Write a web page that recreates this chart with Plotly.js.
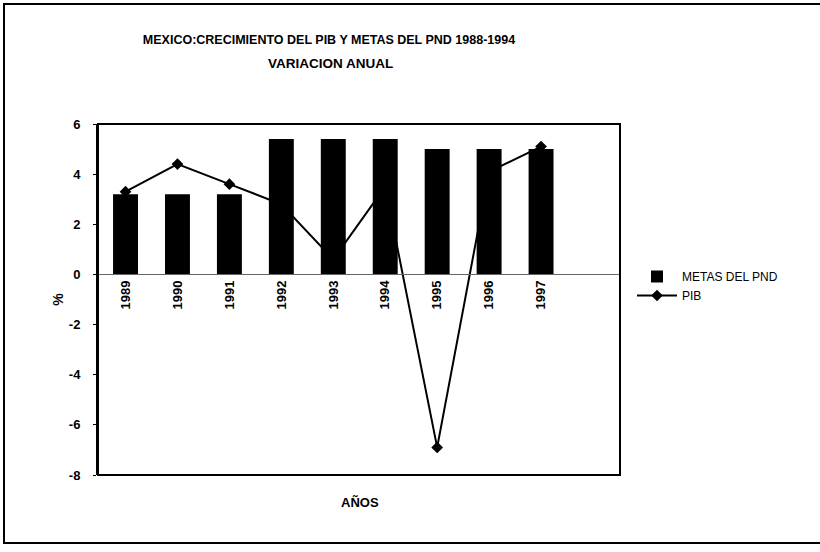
<!DOCTYPE html>
<html>
<head>
<meta charset="utf-8">
<script src="https://cdn.plot.ly/plotly-3.0.1.min.js"></script>
<style>
html,body{margin:0;padding:0;background:#fff;}
#chart{width:820px;height:552px;}
</style>
</head>
<body>
<div id="chart"></div>
<script>
// Data
const years = ['1989','1990','1991','1992','1993','1994','1995','1996','1997'];
const metasPND = [3.2, 3.2, 3.2, 5.4, 5.4, 5.4, 5.0, 5.0, 5.0];
const pib = [3.3, 4.4, 3.6, 2.8, 0.6, 3.5, -6.9, 4.1, 5.1];
const yTicks = [-8, -6, -4, -2, 0, 2, 4, 6];

const W = 820, H = 552;
const L = 98, R = 200, T = 124, B = 77;
const pw = W - L - R, ph = H - T - B;
const yMin = -8, yMax = 6;
const zeroPos = (0 - yMin) / (yMax - yMin);
const px = v => (v - L) / pw;
const py = v => (H - B - v) / ph;

const FONT = 'Liberation Sans, Arial, sans-serif';
const xr = [-0.53, 9.52];

const data = [
  {
    type: 'bar', name: 'METAS DEL PND', x: years, y: metasPND,
    xaxis: 'x2', yaxis: 'y2',
    marker: {color: '#000', line: {width: 0}}
  },
  {
    type: 'scatter', mode: 'lines+markers', name: 'PIB', x: years, y: pib,
    line: {color: '#000', width: 2},
    marker: {symbol: 'diamond', size: 9, color: '#000'}
  }
];

const layout = {
  width: W, height: H,
  margin: {l: L, r: R, t: T, b: B},
  paper_bgcolor: '#fff', plot_bgcolor: '#fff',
  showlegend: true,
  font: {family: FONT, color: '#000'},
  title: {
    text: '<b>MEXICO:CRECIMIENTO DEL PIB Y METAS DEL PND 1988-1994</b>',
    font: {family: FONT, size: 12.5, color: '#000'},
    x: 329 / W, xref: 'container', xanchor: 'center',
    y: 1 - 40 / H, yref: 'container', yanchor: 'middle'
  },
  bargap: 0.52,
  xaxis: {
    type: 'category', range: xr, anchor: 'free', position: zeroPos,
    showline: true, linecolor: '#666', linewidth: 1,
    showgrid: false, zeroline: false,
    ticks: '', tickangle: -90,
    tickfont: {family: FONT, size: 13, color: '#000', weight: 'bold'},
    fixedrange: true
  },
  xaxis2: {
    type: 'category', range: xr, overlaying: 'x', anchor: 'y2',
    visible: false, showgrid: false, zeroline: false
  },
  yaxis: {
    range: [yMin, yMax], tickvals: yTicks, ticktext: yTicks.map(String),
    showgrid: false, zeroline: false,
    showline: true, linecolor: '#000', linewidth: 2,
    ticks: 'outside', ticklen: 3, tickcolor: '#000',
    ticklabelstandoff: 10,
    tickfont: {family: FONT, size: 13, color: '#000', weight: 'bold'},
    title: {text: '<b>%</b>', font: {family: FONT, size: 14, color: '#000'}, standoff: 2}
  },
  yaxis2: {
    range: [yMin, yMax], overlaying: 'y', anchor: 'x2',
    visible: false, showgrid: false, zeroline: false
  },
  legend: {
    x: px(632), y: py(262), xanchor: 'left', yanchor: 'top',
    font: {family: FONT, size: 12, color: '#000'},
    bgcolor: 'rgba(0,0,0,0)', itemwidth: 40, tracegroupgap: 0
  },
  annotations: [
    {
      text: '<b>VARIACION ANUAL</b>', xref: 'paper', yref: 'paper',
      x: px(330), y: py(63), xanchor: 'center', yanchor: 'middle',
      showarrow: false, font: {family: FONT, size: 13.5, color: '#000'}
    },
    {
      text: '<b>AÑOS</b>', xref: 'paper', yref: 'paper',
      x: px(360), y: py(502), xanchor: 'center', yanchor: 'middle',
      showarrow: false, font: {family: FONT, size: 13, color: '#000'}
    }
  ],
  shapes: [
    {type: 'rect', xref: 'paper', yref: 'paper', x0: 0, x1: 1, y0: 0, y1: 1,
     line: {color: '#000', width: 2}},
    {type: 'rect', xref: 'paper', yref: 'paper', x0: px(4), x1: px(840), y0: py(543), y1: py(4),
     line: {color: '#000', width: 2}}
  ]
};

Plotly.newPlot('chart', data, layout, {displayModeBar: false, staticPlot: true});
</script>
</body>
</html>
